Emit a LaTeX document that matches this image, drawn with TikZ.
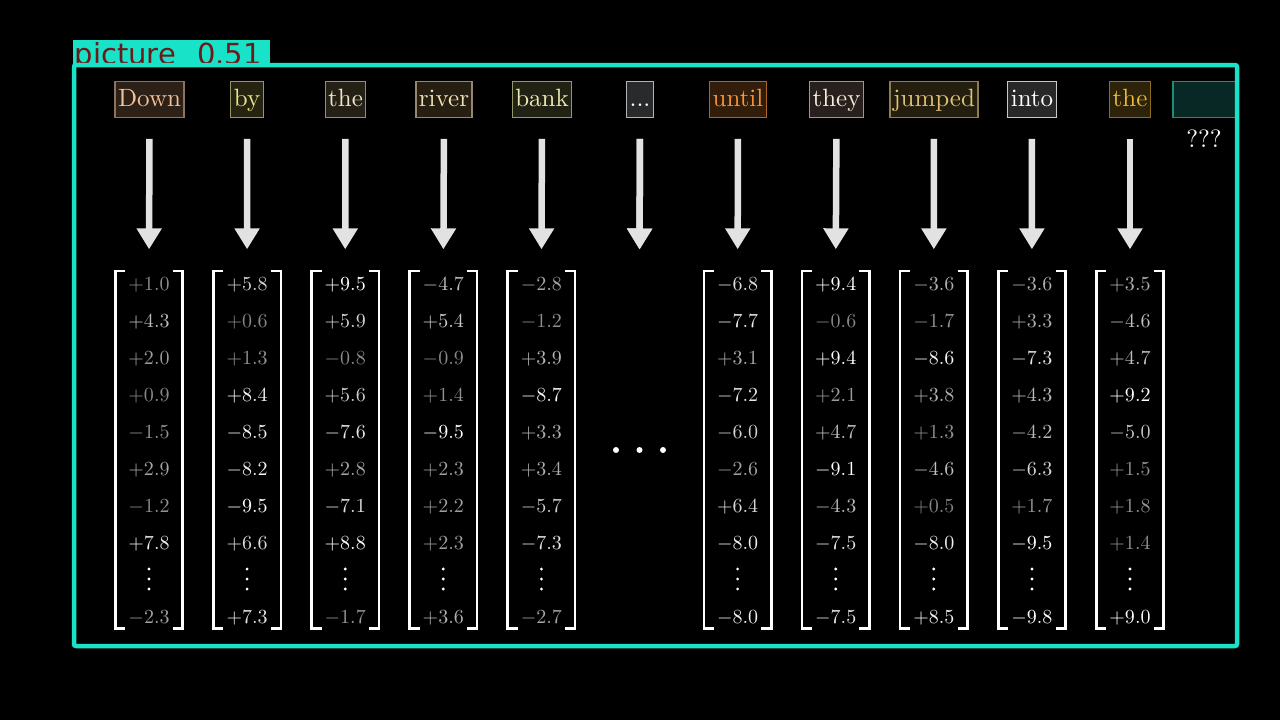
\documentclass[tikz,border=0pt]{standalone}
\usepackage{fontspec}
\setmainfont{lmroman10-regular.otf}
\newfontfamily\labelfont{DejaVu Sans}
\usetikzlibrary{arrows.meta}
\definecolor{framecol}{RGB}{24,226,200}
\definecolor{labeltext}{RGB}{110,25,25}
\definecolor{arrowgray}{RGB}{226,226,226}
% word box colours: text / fill / border
\definecolor{tA}{RGB}{240,195,155}\definecolor{fA}{RGB}{45,32,22}\definecolor{bA}{RGB}{140,115,95}
\definecolor{tB}{RGB}{230,230,140}\definecolor{fB}{RGB}{38,36,16}\definecolor{bB}{RGB}{150,150,100}
\definecolor{tC}{RGB}{240,230,200}\definecolor{fC}{RGB}{36,32,22}\definecolor{bC}{RGB}{150,140,120}
\definecolor{tD}{RGB}{240,225,185}\definecolor{fD}{RGB}{38,30,16}\definecolor{bD}{RGB}{150,135,110}
\definecolor{tE}{RGB}{240,235,180}\definecolor{fE}{RGB}{34,34,20}\definecolor{bE}{RGB}{150,150,110}
\definecolor{tF}{RGB}{255,255,255}\definecolor{fF}{RGB}{40,42,44}\definecolor{bF}{RGB}{180,180,180}
\definecolor{tG}{RGB}{245,150,65}\definecolor{fG}{RGB}{50,28,10}\definecolor{bG}{RGB}{170,100,40}
\definecolor{tH}{RGB}{248,235,220}\definecolor{fH}{RGB}{40,32,28}\definecolor{bH}{RGB}{160,150,140}
\definecolor{tI}{RGB}{222,195,120}\definecolor{fI}{RGB}{36,30,14}\definecolor{bI}{RGB}{140,125,85}
\definecolor{tJ}{RGB}{255,255,255}\definecolor{fJ}{RGB}{40,40,40}\definecolor{bJ}{RGB}{200,200,200}
\definecolor{tK}{RGB}{235,185,50}\definecolor{fK}{RGB}{45,34,10}\definecolor{bK}{RGB}{140,110,30}
\definecolor{fL}{RGB}{8,40,38}\definecolor{bL}{RGB}{30,140,120}

\newcommand\numcol[3]{%
  \node[mat] (m#1) at (#2,449.75) {};
  \draw[brk] ([xshift=10pt]m#1.north west) -- (m#1.north west) -- (m#1.south west) -- ([xshift=10pt]m#1.south west);
  \draw[brk] ([xshift=-10pt]m#1.north east) -- (m#1.north east) -- (m#1.south east) -- ([xshift=-10pt]m#1.south east);
  \foreach \v [count=\r] in {#3} {
    \pgfmathtruncatemacro\g{min(100,50+5.5*abs(0\v))}
    \pgfmathsetmacro\yy{\r<9 ? 284.5+36.9*(\r-1)+6.4 : 623.9}
    \node[num, text=white!\g!black] (n#1-\r) at (#2,\yy) {\scalebox{2}{$\v$}};
  }
  \foreach \d in {-10,0,10} \fill[white] (#2,{579+\d}) circle (1.6pt);
}

\begin{document}
\begin{tikzpicture}[x=1pt,y=-1pt,
  word/.style={draw, line width=1.2pt, inner xsep=3pt, inner ysep=6.3pt,
    text height=18pt, text depth=5pt, font=\fontsize{25}{30}\selectfont},
  arr/.style={draw=arrowgray, line width=6.5pt, -{Triangle[width=24pt,length=21pt]},
    shorten <=21pt, shorten >=21.5pt},
  brk/.style={draw=white, line width=2.6pt},
  mat/.style={minimum width=67pt, minimum height=357.5pt, inner sep=0pt},
  num/.style={anchor=base, inner sep=0pt},
  dotc/.style={fill=white}
]
\fill[black] (0,0) rectangle (1280,720);
\useasboundingbox (0,0) rectangle (1280,720);

% detection label
\fill[framecol] (73,40) rectangle (270,66);
\begin{scope}
  \clip (73,40) rectangle (270,66);
  \node[anchor=base west, inner sep=0pt, text=labeltext, font=\labelfont\fontsize{29}{32}\selectfont] (lab) at (74.5,64.5) {picture\hspace{12pt} 0.51};
\end{scope}

% words
\node[word, draw=bA, fill=fA, text=tA] (w1) at (149.5,99.5) {Down};
\node[word, draw=bB, fill=fB, text=tB] (w2) at (247,99.5) {by};
\node[word, draw=bC, fill=fC, text=tC] (w3) at (345.5,99.5) {the};
\node[word, draw=bD, fill=fD, text=tD] (w4) at (444,99.5) {river};
\node[word, draw=bE, fill=fE, text=tE] (w5) at (542,99.5) {bank};
\node[word, draw=bF, fill=fF, text=tF] (w6) at (640,99.5) {...};
\node[word, draw=bG, fill=fG, text=tG] (w7) at (738,99.5) {until};
\node[word, draw=bH, fill=fH, text=tH] (w8) at (836.5,99.5) {they};
\node[word, draw=bI, fill=fI, text=tI] (w9) at (934,99.5) {jumped};
\node[word, draw=bJ, fill=fJ, text=tJ] (w10) at (1032,99.5) {into};
\node[word, draw=bK, fill=fK, text=tK] (w11) at (1130,99.5) {the};
\node[word, draw=bL, fill=fL, minimum width=63pt] (w12) at (1204.5,99.5) {};
\node[font=\fontsize{25}{30}\selectfont, text=white, inner sep=0pt] (q) at (1204,139) {???};

% vectors
\numcol{1}{149}{+1.0,+4.3,+2.0,+0.9,-1.5,+2.9,-1.2,+7.8,-2.3}
\numcol{2}{247.1}{+5.8,+0.6,+1.3,+8.4,-8.5,-8.2,-9.5,+6.6,+7.3}
\numcol{3}{345.2}{+9.5,+5.9,-0.8,+5.6,-7.6,+2.8,-7.1,+8.8,-1.7}
\numcol{4}{443.3}{-4.7,+5.4,-0.9,+1.4,-9.5,+2.3,+2.2,+2.3,+3.6}
\numcol{5}{541.4}{-2.8,-1.2,+3.9,-8.7,+3.3,+3.4,-5.7,-7.3,-2.7}
\coordinate (m6) at (639.5,271);
\numcol{7}{737.6}{-6.8,-7.7,+3.1,-7.2,-6.0,-2.6,+6.4,-8.0,-8.0}
\numcol{8}{835.7}{+9.4,-0.6,+9.4,+2.1,+4.7,-9.1,-4.3,-7.5,-7.5}
\numcol{9}{933.8}{-3.6,-1.7,-8.6,+3.8,+1.3,-4.6,+0.5,-8.0,+8.5}
\numcol{10}{1031.9}{-3.6,+3.3,-7.3,+4.3,-4.2,-6.3,+1.7,-9.5,-9.8}
\numcol{11}{1130}{+3.5,-4.6,+4.7,+9.2,-5.0,+1.5,+1.8,+1.4,+9.0}

% arrows
\foreach \i in {1,...,11} \draw[arr] (w\i.south) -- (m\i.north);
\draw[arr] (w6.south) -- (m6);

% horizontal ellipsis
\foreach \x in {616,639.5,663} \fill[dotc] (\x,450) circle (3pt);

% detection frame
\draw[framecol, line width=4.5pt, rounded corners=2pt] (74,65) rectangle (1237,646);
\end{tikzpicture}
\end{document}
